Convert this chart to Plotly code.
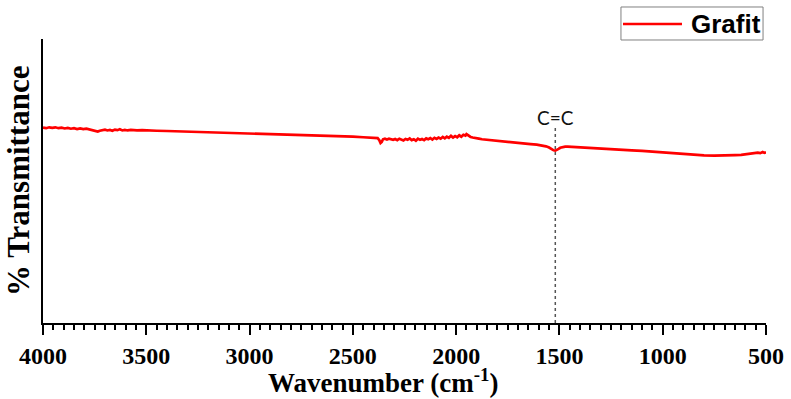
import plotly.graph_objects as go

# FTIR spectrum of graphite
wavenumber = [4000, 3985, 3970, 3955, 3940, 3925, 3910, 3895, 3880, 3865, 3850, 3835, 3820, 3805,
              3790, 3775, 3760, 3745, 3735, 3725, 3712, 3700, 3688, 3676, 3664, 3652, 3640, 3628,
              3616, 3604, 3590, 3575, 3560, 3545, 3520, 3500, 3450, 3400, 3350, 3300, 3250, 3200,
              3150, 3100, 3050, 3000, 2950, 2900, 2850, 2800, 2750, 2700, 2650, 2600, 2550, 2500,
              2450, 2400, 2390, 2380, 2372, 2366, 2360, 2354, 2345, 2335, 2325, 2315, 2305, 2295,
              2285, 2275, 2265, 2255, 2245, 2235, 2225, 2215, 2205, 2195, 2185, 2175, 2165, 2155,
              2145, 2135, 2125, 2115, 2105, 2095, 2085, 2075, 2065, 2055, 2045, 2035, 2025, 2015,
              2005, 1995, 1985, 1975, 1965, 1955, 1950, 1945, 1938, 1930, 1920, 1905, 1890, 1875,
              1850, 1820, 1790, 1760, 1730, 1700, 1670, 1640, 1610, 1585, 1565, 1550, 1538, 1528,
              1520, 1512, 1504, 1496, 1485, 1472, 1460, 1440, 1400, 1350, 1300, 1250, 1200, 1150,
              1100, 1050, 1000, 950, 900, 850, 800, 750, 700, 650, 620, 600, 585, 570, 555, 540,
              528, 516, 508, 500]
transmittance = [68.8, 68.6, 68.9, 68.7, 68.9, 68.6, 68.8, 68.5, 68.7, 68.4, 68.6, 68.3, 68.5, 68.3,
                 68.4, 68.1, 67.8, 67.5, 67.4, 67.7, 67.9, 68.1, 67.8, 68.0, 67.7, 68.1, 67.9, 68.2,
                 67.8, 68.0, 67.8, 68.0, 67.9, 67.8, 67.9, 67.8, 67.7, 67.6, 67.5, 67.4, 67.3, 67.2,
                 67.1, 67.0, 66.9, 66.8, 66.7, 66.6, 66.5, 66.4, 66.3, 66.2, 66.1, 66.0, 65.8, 65.6,
                 65.4, 65.3, 65.2, 65.1, 64.4, 63.4, 63.8, 64.7, 64.9, 64.6, 64.9, 64.7, 64.5, 64.8,
                 64.4, 64.9, 64.6, 64.3, 64.8, 64.5, 65.0, 64.4, 64.7, 64.2, 64.9, 64.5, 64.8, 64.4,
                 65.0, 64.7, 65.1, 64.6, 65.2, 64.8, 65.3, 64.9, 65.5, 65.0, 65.6, 65.2, 65.9, 65.3,
                 65.8, 65.4, 66.1, 65.6, 66.3, 66.0, 66.5, 66.2, 65.8, 65.5, 65.3, 65.0, 64.9, 64.7,
                 64.5, 64.2, 64.0, 63.8, 63.6, 63.4, 63.2, 63.0, 62.8, 62.5, 62.2, 61.8, 61.2, 60.8,
                 60.7, 60.9, 61.3, 61.7, 62.0, 62.1, 62.1, 62.0, 61.8, 61.6, 61.4, 61.2, 61.0, 60.8,
                 60.6, 60.3, 60.1, 59.8, 59.5, 59.2, 59.0, 58.9, 58.9, 59.1, 59.2, 59.4, 59.3, 59.6,
                 59.7, 60.0, 59.8, 60.2, 59.9, 60.1]

series_name = "Grafit"
peak_label = "C=C"
peak_position = 1520
x_tickvals = [4000, 3500, 3000, 2500, 2000, 1500, 1000, 500]
x_title = "<b>Wavenumber (cm<sup>-1</sup>)</b>"
y_title = "<b>% Transmittance</b>"

fig = go.Figure()
fig.add_trace(go.Scatter(
    x=wavenumber, y=transmittance, mode="lines", name=series_name,
    line=dict(color="#ff0000", width=2.7), showlegend=False,
))

# dashed marker line for the C=C band
fig.add_shape(type="line", xref="x", yref="y", x0=peak_position, x1=peak_position,
              y0=0, y1=69.7, line=dict(color="#555555", width=1.5, dash="dot"))
fig.add_annotation(x=peak_position, y=72.3, xref="x", yref="y", text=peak_label,
                   showarrow=False, font=dict(family="Lato", size=19, color="#111111"),
                   yanchor="middle")

# legend box drawn by hand
fig.add_shape(type="rect", xref="paper", yref="paper", x0=0.7994, x1=0.9959,
              y0=0.9965, y1=1.1127, line=dict(color="#808080", width=1), fillcolor="white")
fig.add_shape(type="line", xref="paper", yref="paper", x0=0.8022, x1=0.8838,
              y0=1.0528, y1=1.0528, line=dict(color="#ff0000", width=2.7))
fig.add_annotation(x=0.8935, y=1.0528, xref="paper", yref="paper", text="<b>" + series_name + "</b>",
                   showarrow=False, xanchor="left", yanchor="middle",
                   font=dict(family="Liberation Sans", size=26, color="black"))

# axis titles
fig.add_annotation(x=0.4696, y=-0.2676, xref="paper", yref="paper", text=x_title,
                   showarrow=False, xanchor="center", yanchor="bottom", borderpad=0,
                   font=dict(family="Liberation Serif", size=27, color="black"))
fig.add_annotation(x=-0.0346, y=0.5, xref="paper", yref="paper", text=y_title, textangle=-90,
                   showarrow=False, xanchor="center", yanchor="middle",
                   font=dict(family="Liberation Serif", size=31, color="black"))

fig.update_layout(
    width=791, height=399,
    margin=dict(l=43, r=25, t=39, b=76, autoexpand=False),
    paper_bgcolor="white", plot_bgcolor="white",
    xaxis=dict(
        range=[4000, 500], tickvals=x_tickvals, automargin=False,
        ticks="outside", ticklen=10, tickwidth=2, tickcolor="black",
        minor=dict(dtick=50, ticks="outside", ticklen=5, tickwidth=1.5, tickcolor="black", showgrid=False),
        showline=True, linecolor="black", linewidth=2, showgrid=False, zeroline=False,
        tickfont=dict(family="Liberation Serif", size=24, color="black", weight="bold"),
    ),
    yaxis=dict(
        range=[0, 100], showticklabels=False, ticks="", showgrid=False, zeroline=False,
        showline=True, linecolor="black", linewidth=2, automargin=False,
    ),
)

fig.write_html("out.html")
